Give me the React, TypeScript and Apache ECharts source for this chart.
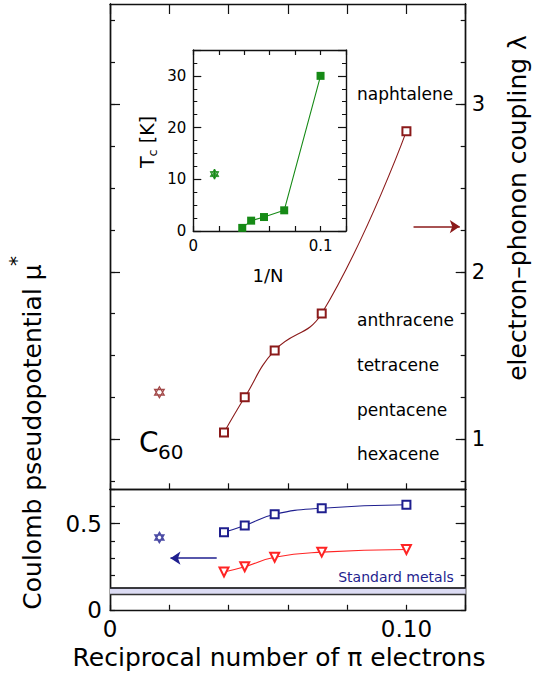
import React, { useEffect, useRef } from "react";
import * as echarts from "echarts";

// ---- data (x = reciprocal number of pi electrons, 1/N) ----
const moleculeNames = ["hexacene", "pentacene", "tetracene", "anthracene", "naphtalene"];
const invN = [1 / 26, 1 / 22, 1 / 18, 1 / 14, 1 / 10];
const lambdaValues = [1.04, 1.25, 1.53, 1.75, 2.84];
const muUpperValues = [0.45, 0.49, 0.555, 0.59, 0.61];
const muLowerValues = [0.22, 0.25, 0.305, 0.335, 0.35];
const tcValues = [0.6, 2.0, 2.7, 4.0, 30];
const c60X = 1 / 60;
const c60Lambda = 1.28;
const c60Mu = 0.42;
const c60Tc = 11;
const c60TcErr = 1;
const standardMetalsBand = [0.09, 0.13];
const lambdaArrow = [0.1024, 0.118, 2.27]; // from x, to x, lambda
const muArrow = [0.036, 0.0204, 0.3]; // from x, to x, mu*
const lambdaMajorTicks = [1, 2, 3];
const lambdaMinorTicks = [0.75, 1, 1.25, 1.5, 1.75, 2, 2.25, 2.5, 2.75, 3, 3.25, 3.5];
const muLabelValues = [0, 0.5];
const xLabelValues = [0, 0.1];
const moleculeLabelY = [454, 410, 365, 320, 94]; // pixel rows of the name labels

const FONT = "DejaVu Sans";
const AX = "#111";
const DARKRED = "#8b1a1a";
const NAVY = "#1f1f8f";
const RED = "#ff2424";
const GREEN = "#168a16";
const hexagramOpen = "path://M0,-10L8.66,5L-8.66,5Z M0,10L-8.66,-5L8.66,-5Z";
const hexagramFilled = "path://M0,-10L8.66,5L-8.66,5Z M0,10L8.66,-5L-8.66,-5Z M0,-5.8L5,2.9L-5,2.9Z";

function axis(o: any) {
  return {
    type: "value",
    axisLine: { show: o.line !== false, onZero: false, lineStyle: { color: AX, width: 1.4 } },
    splitLine: { show: false },
    axisTick: o.tick === false ? { show: false } : {
      show: true, inside: true, length: o.len ?? 5,
      lineStyle: { color: AX, width: 1.2 },
      ...(o.tickValues ? { customValues: o.tickValues } : {}),
    },
    minorTick: o.minor ? { show: true, splitNumber: o.minor, length: o.minorLen ?? 4, lineStyle: { color: AX, width: 1 } } : { show: false },
    axisLabel: o.label ? { show: true, ...o.label } : { show: false },
    gridIndex: o.grid, position: o.pos, min: o.min, max: o.max,
    ...(o.interval ? { interval: o.interval } : {}),
  };
}

export default function App() {
  const ref = useRef<HTMLDivElement>(null);
  useEffect(() => {
    const chart = echarts.init(ref.current!, null, { renderer: "svg" });
    const xr = { min: 0, max: 0.12, interval: 0.02 };
    const lam = { min: 0.7, max: 3.6 };
    const mu = { min: 0, max: 0.7 };
    const tc = { min: 0, max: 35 };
    const option: any = {
      animation: false,
      backgroundColor: "#fff",
      textStyle: { fontFamily: FONT },
      grid: [
        { left: 110, top: 4, width: 355.7, height: 485.3 },
        { left: 110, top: 489.3, width: 355.7, height: 120.5 },
        { left: 193.3, top: 50, width: 152.7, height: 181, show: true, backgroundColor: "#fff", borderWidth: 0 },
      ],
      xAxis: [
        axis({ grid: 0, pos: "bottom", ...xr, len: 6 }),
        axis({ grid: 0, pos: "top", ...xr, len: 10 }),
        axis({
          grid: 1, pos: "bottom", ...xr, len: 5,
          label: { customValues: xLabelValues, fontSize: 23, color: "#000", margin: 8, fontFamily: FONT,
            formatter: (v: number) => (v === 0 ? "0" : "0.10") },
        }),
        axis({ grid: 1, pos: "top", ...xr, tick: false }),
        axis({
          grid: 2, pos: "bottom", ...xr, len: 5,
          label: { customValues: xLabelValues, fontSize: 15, color: "#000", margin: 7, fontFamily: FONT,
            formatter: (v: number) => (v === 0 ? "0" : "0.1") },
        }),
        axis({ grid: 2, pos: "top", ...xr, len: 5 }),
      ],
      yAxis: [
        axis({ grid: 0, pos: "left", ...lam, tickValues: lambdaMinorTicks, len: 5 }),
        axis({ grid: 0, pos: "left", ...lam, tickValues: lambdaMajorTicks, len: 10 }),
        axis({ grid: 0, pos: "right", ...lam, tickValues: lambdaMinorTicks, len: 5 }),
        axis({
          grid: 0, pos: "right", ...lam, tickValues: lambdaMajorTicks, len: 10,
          label: { customValues: lambdaMajorTicks, fontSize: 21, color: "#000", margin: 6, fontFamily: FONT },
        }),
        axis({
          grid: 1, pos: "left", ...mu, interval: 0.1, len: 5,
          label: { customValues: muLabelValues, fontSize: 23, color: "#000", margin: 8, fontFamily: FONT,
            formatter: (v: number) => (v === 0 ? "0" : "0.5") },
        }),
        axis({ grid: 1, pos: "left", ...mu, tickValues: [0.5], len: 10 }),
        axis({ grid: 1, pos: "right", ...mu, interval: 0.1, len: 5 }),
        axis({ grid: 1, pos: "right", ...mu, tickValues: [0.5], len: 10 }),
        axis({
          grid: 2, pos: "left", ...tc, interval: 10, len: 8, minor: 4,
          label: { fontSize: 15, color: "#000", margin: 7, fontFamily: FONT, showMaxLabel: false },
        }),
        axis({ grid: 2, pos: "right", ...tc, interval: 10, len: 8, minor: 4 }),
      ],
      series: [
        {
          type: "line", name: "lambda", xAxisIndex: 0, yAxisIndex: 2,
          data: invN.map((x, i) => [x, lambdaValues[i]]),
          smooth: 0.45, symbol: "emptyRect", symbolSize: 8,
          itemStyle: { color: DARKRED, borderWidth: 1.2 },
          lineStyle: { color: DARKRED, width: 1.1 },
          markLine: {
            silent: true, symbol: ["none", "arrow"], symbolSize: 10,
            label: { show: false },
            lineStyle: { color: DARKRED, width: 1.6, type: "solid" },
            data: [[{ coord: [lambdaArrow[0], lambdaArrow[2]] }, { coord: [lambdaArrow[1], lambdaArrow[2]] }]],
          },
          z: 3,
        },
        {
          type: "scatter", name: "C60 lambda", xAxisIndex: 0, yAxisIndex: 2,
          data: [[c60X, c60Lambda]], symbol: hexagramOpen, symbolSize: 11, symbolKeepAspect: true,
          itemStyle: { color: "rgba(255,255,255,0)", borderColor: DARKRED, borderWidth: 1.3 },
        },
        {
          type: "line", name: "mu upper", xAxisIndex: 2, yAxisIndex: 4,
          data: invN.map((x, i) => [x, muUpperValues[i]]),
          smooth: 0.5, symbol: "emptyRect", symbolSize: 8,
          itemStyle: { color: NAVY, borderWidth: 1.2 },
          lineStyle: { color: NAVY, width: 1.1 },
          markArea: {
            silent: true,
            itemStyle: { color: "#dcdcf4", opacity: 1 },
            data: [[{ yAxis: standardMetalsBand[0] }, { yAxis: standardMetalsBand[1] }]],
          },
          markLine: {
            silent: true, symbol: ["none", "none"], symbolSize: 10,
            label: { show: false },
            lineStyle: { color: NAVY, width: 1.6, type: "solid" },
            data: [
              [{ coord: [muArrow[0], muArrow[2]], symbol: "none" }, { coord: [muArrow[1], muArrow[2]], symbol: "arrow" }],
              { yAxis: standardMetalsBand[1], lineStyle: { color: "#000", width: 1.6, type: "solid" } },
              { yAxis: standardMetalsBand[0], lineStyle: { color: "#333", width: 1.4, type: "solid" } },
            ],
          },
          z: 3,
        },
        {
          type: "line", name: "mu lower", xAxisIndex: 2, yAxisIndex: 4,
          data: invN.map((x, i) => [x, muLowerValues[i]]),
          smooth: 0.5, symbol: "emptyTriangle", symbolRotate: 180, symbolSize: 9,
          itemStyle: { color: RED, borderWidth: 1.2 },
          lineStyle: { color: RED, width: 1.1 },
          z: 3,
        },
        {
          type: "scatter", name: "C60 mu", xAxisIndex: 2, yAxisIndex: 4,
          data: [[c60X, c60Mu]], symbol: hexagramOpen, symbolSize: 10, symbolKeepAspect: true,
          itemStyle: { color: "rgba(255,255,255,0)", borderColor: NAVY, borderWidth: 1.6 },
        },
        {
          type: "line", name: "Tc", xAxisIndex: 4, yAxisIndex: 8,
          data: invN.map((x, i) => [x, tcValues[i]]),
          symbol: "rect", symbolSize: 8,
          itemStyle: { color: GREEN },
          lineStyle: { color: GREEN, width: 1.1 },
          z: 5,
        },
        {
          type: "line", name: "C60 Tc err", xAxisIndex: 4, yAxisIndex: 8,
          data: [[c60X, c60Tc - c60TcErr], [c60X, c60Tc + c60TcErr]],
          symbol: "none", lineStyle: { color: GREEN, width: 1.4 }, z: 5,
        },
        {
          type: "scatter", name: "C60 Tc", xAxisIndex: 4, yAxisIndex: 8,
          data: [[c60X, c60Tc]], symbol: hexagramFilled, symbolSize: 10, symbolKeepAspect: true,
          itemStyle: { color: GREEN, borderColor: GREEN, borderWidth: 1 }, z: 6,
        },
      ],
      graphic: [
        ...moleculeNames.map((t, i) => ({
          type: "text", x: 357, y: moleculeLabelY[i], z: 10,
          style: { text: t, fontSize: 17, fontFamily: FONT, fill: "#000", verticalAlign: "middle", textVerticalAlign: "middle" },
        })),
        { type: "text", x: 139, y: 442, z: 10, style: { text: "C", fontSize: 28, fontFamily: FONT, fill: "#000", verticalAlign: "middle", textVerticalAlign: "middle" } },
        { type: "text", x: 158, y: 452, z: 10, style: { text: "60", fontSize: 20, fontFamily: FONT, fill: "#000", verticalAlign: "middle", textVerticalAlign: "middle" } },
        {
          type: "text", x: 396, y: 577, z: 10,
          style: { text: "Standard metals", fontSize: 14, fontFamily: FONT, fill: NAVY, align: "center", textAlign: "center", verticalAlign: "middle", textVerticalAlign: "middle" },
        },
        {
          type: "text", x: 279, y: 657, z: 10,
          style: { text: "Reciprocal number of π electrons", fontSize: 25, fontFamily: FONT, fill: "#000", align: "center", textAlign: "center", verticalAlign: "middle", textVerticalAlign: "middle" },
        },
        {
          type: "text", x: 517, y: 208, rotation: Math.PI / 2, z: 10,
          style: { text: "electron–phonon coupling λ", fontSize: 25, fontFamily: FONT, fill: "#000", align: "center", textAlign: "center", verticalAlign: "middle", textVerticalAlign: "middle" },
        },
        {
          type: "text", x: 32, y: 437, rotation: Math.PI / 2, z: 10,
          style: { text: "Coulomb pseudopotential μ", fontSize: 25, fontFamily: FONT, fill: "#000", align: "center", textAlign: "center", verticalAlign: "middle", textVerticalAlign: "middle" },
        },
        {
          type: "text", x: 16, y: 261, rotation: Math.PI / 2, z: 10,
          style: { text: "*", fontSize: 20, fontFamily: FONT, fill: "#000", align: "center", textAlign: "center", verticalAlign: "middle", textVerticalAlign: "middle" },
        },
        {
          type: "text", x: 147, y: 142, rotation: Math.PI / 2, z: 10,
          style: {
            text: "{a|T}{b|c}{a| [K]}", fontFamily: FONT, fill: "#000", align: "center", textAlign: "center", verticalAlign: "middle", textVerticalAlign: "middle",
            rich: { a: { fontSize: 19, fontFamily: FONT, fill: "#000", lineHeight: 24 }, b: { fontSize: 13, fontFamily: FONT, fill: "#000", verticalAlign: "bottom", lineHeight: 24 } },
          },
        },
        {
          type: "text", x: 268, y: 275, z: 10,
          style: { text: "1/N", fontSize: 18, fontFamily: FONT, fill: "#000", align: "center", textAlign: "center", verticalAlign: "middle", textVerticalAlign: "middle" },
        },
      ],
    };
    chart.setOption(option);
    return () => chart.dispose();
  }, []);
  return (
    <div
      ref={ref}
      style={{ position: "absolute", left: 0, top: 0, width: 533, height: 676, background: "#fff" }}
    />
  );
}
